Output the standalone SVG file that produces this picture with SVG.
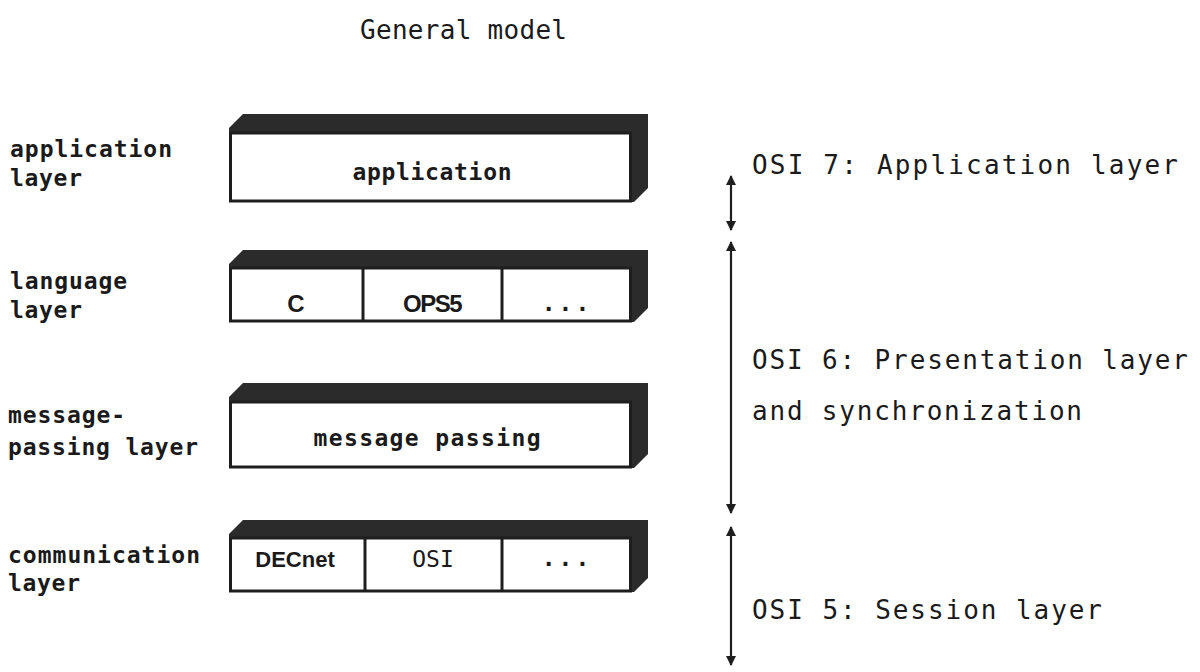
<svg xmlns="http://www.w3.org/2000/svg" width="1200" height="672" viewBox="0 0 1200 672">
<defs>
<style>
.shadow{fill:#2b2b2b}
.face{fill:#fff;stroke:#1e1e1e;stroke-width:3}
.div{stroke:#1e1e1e;stroke-width:3}
.lbl{font-family:"DejaVu Sans Mono","Liberation Mono",monospace;font-weight:bold;font-size:23px;fill:#1a1a1a}
.box{font-family:"DejaVu Sans Mono","Liberation Mono",monospace;font-weight:bold;font-size:23px;fill:#1a1a1a;text-anchor:middle}
.sans{font-family:"Liberation Sans",Arial,sans-serif;font-size:24px;fill:#1a1a1a;text-anchor:middle}
.osi{font-family:"DejaVu Sans Mono","Liberation Mono",monospace;font-size:26px;fill:#1a1a1a}
.conn{stroke:#1e1e1e;stroke-width:2.2;fill:none}
</style>
<marker id="ah" viewBox="0 0 10 14" refX="9" refY="7" markerWidth="10" markerHeight="14" markerUnits="userSpaceOnUse" orient="auto-start-reverse">
<path d="M0,2 L10,7 L0,12 Z" fill="#1e1e1e"/>
</marker>
</defs>
<rect width="1200" height="672" fill="#fff"/>

<text id="title" class="osi" x="360" y="39" font-size="24" textLength="207" lengthAdjust="spacing">General model</text>

<g id="label-application">
<text class="lbl" x="10" y="157" textLength="162" lengthAdjust="spacing">application</text>
<text class="lbl" x="10" y="186" textLength="72" lengthAdjust="spacing">layer</text>
</g>
<g id="label-language">
<text class="lbl" x="10" y="289" textLength="117" lengthAdjust="spacing">language</text>
<text class="lbl" x="10" y="318" textLength="72" lengthAdjust="spacing">layer</text>
</g>
<g id="label-message">
<text class="lbl" x="8" y="423" textLength="117" lengthAdjust="spacing">message-</text>
<text class="lbl" x="8" y="455" textLength="190" lengthAdjust="spacing">passing layer</text>
</g>
<g id="label-communication">
<text class="lbl" x="8" y="563" textLength="192" lengthAdjust="spacing">communication</text>
<text class="lbl" x="8" y="591" textLength="72" lengthAdjust="spacing">layer</text>
</g>

<g id="box-application">
<polygon class="shadow" points="229,128 243,114 648,114 648,188 634,202 229,202"/>
<rect class="face" x="230.5" y="133" width="400" height="68"/>
<text class="box" x="432" y="180" textLength="159" lengthAdjust="spacing">application</text>
</g>

<g id="box-language">
<polygon class="shadow" points="229,264 243,250 648,250 648,308 634,322 229,322"/>
<rect class="face" x="230.5" y="268" width="400" height="53"/>
<line class="div" x1="363" y1="268" x2="363" y2="321"/>
<line class="div" x1="502" y1="268" x2="502" y2="321"/>
<text class="sans" x="296" y="312" style="font-weight:bold">C</text>
<text class="sans" x="432" y="312" letter-spacing="-1.5" style="font-weight:bold">OPS5</text>
<text class="box" x="567" y="311" letter-spacing="3">...</text>
</g>

<g id="box-message">
<polygon class="shadow" points="229,397 243,383 648,383 648,454 634,468 229,468"/>
<rect class="face" x="230.5" y="402" width="400" height="65"/>
<text class="box" x="427" y="446" textLength="227" lengthAdjust="spacing">message passing</text>
</g>

<g id="box-communication">
<polygon class="shadow" points="229,534 243,520 648,520 648,578 634,592 229,592"/>
<rect class="face" x="230.5" y="538" width="400" height="53"/>
<line class="div" x1="365" y1="538" x2="365" y2="591"/>
<line class="div" x1="502" y1="538" x2="502" y2="591"/>
<text class="sans" x="295" y="567" style="font-size:22px;font-weight:bold">DECnet</text>
<text class="box" x="433" y="567" style="font-weight:normal">OSI</text>
<text class="box" x="567" y="566" letter-spacing="3">...</text>
</g>

<g id="connectors">
<line class="conn" x1="731" y1="176" x2="731" y2="230" marker-start="url(#ah)" marker-end="url(#ah)"/>
<line class="conn" x1="731" y1="242" x2="731" y2="513" marker-start="url(#ah)" marker-end="url(#ah)"/>
<line class="conn" x1="731" y1="527" x2="731" y2="665" marker-start="url(#ah)" marker-end="url(#ah)"/>
</g>

<g id="osi7">
<text class="osi" x="752" y="174" textLength="426" lengthAdjust="spacing">OSI 7: Application layer</text>
</g>
<g id="osi6">
<text class="osi" x="752" y="369" textLength="436" lengthAdjust="spacing">OSI 6: Presentation layer</text>
<text class="osi" x="752" y="420" textLength="330" lengthAdjust="spacing">and synchronization</text>
</g>
<g id="osi5">
<text class="osi" x="752" y="619" textLength="350" lengthAdjust="spacing">OSI 5: Session layer</text>
</g>
</svg>
